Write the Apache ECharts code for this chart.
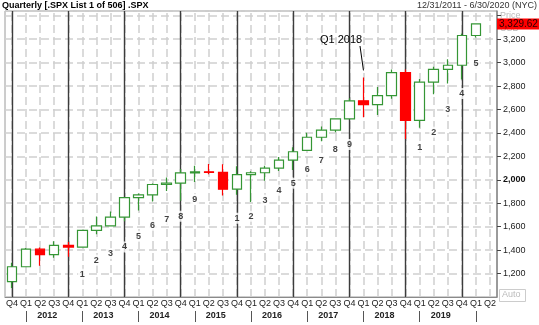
<!DOCTYPE html>
<html><head><meta charset="utf-8">
<script src="https://cdn.jsdelivr.net/npm/echarts@6/dist/echarts.min.js"></script>
<style>html,body{margin:0;padding:0;background:#fff}#c{width:539px;height:325px}</style>
</head><body><div id="c"></div>
<script>
// ---- data ----
const quarters = ['Q4 2011',
  'Q1 2012','Q2 2012','Q3 2012','Q4 2012',
  'Q1 2013','Q2 2013','Q3 2013','Q4 2013',
  'Q1 2014','Q2 2014','Q3 2014','Q4 2014',
  'Q1 2015','Q2 2015','Q3 2015','Q4 2015',
  'Q1 2016','Q2 2016','Q3 2016','Q4 2016',
  'Q1 2017','Q2 2017','Q3 2017','Q4 2017',
  'Q1 2018','Q2 2018','Q3 2018','Q4 2018',
  'Q1 2019','Q2 2019','Q3 2019','Q4 2019',
  'Q1 2020','Q2 2020'];
const openP  = [1131,1258,1408,1362,1441,1426,1569,1606,1682,1848,1872,1960,1972,2059,2068,2063,1920,2044,2060,2099,2168,2251,2363,2423,2519,2674,2641,2718,2914,2507,2834,2942,2977,3231];
const highP  = [1292,1419,1422,1475,1470,1570,1687,1730,1849,1883,1968,2019,2093,2119,2135,2133,2116,2072,2120,2194,2278,2401,2454,2520,2695,2873,2791,2941,2940,2860,2964,3028,3247,3330];
const lowP   = [1075,1258,1267,1335,1343,1426,1536,1604,1646,1738,1814,1904,1821,1981,2048,1867,1872,1810,1992,2074,2084,2245,2329,2406,2520,2533,2553,2692,2347,2444,2729,2822,2856,3214];
const closeP = [1258,1408,1362,1441,1426,1569,1606,1682,1848,1872,1960,1972,2059,2068,2063,1920,2044,2060,2099,2168,2239,2363,2423,2519,2674,2641,2718,2914,2507,2834,2942,2977,3231,3329.62];
const setupCount = [null,null,null,null,null,1,2,3,4,5,6,7,8,9,null,null,1,2,3,4,5,6,7,8,9,null,null,null,null,1,2,3,4,5,null];
const countLevel = [null,null,null,null,null,1194,1314,1371,1427,1518,1612,1663,1689,1834,null,null,1672,1689,1826,1911,1971,2090,2167,2258,2301,null,null,null,null,2278,2406,2600,2736,2992,null];
const lastPrice = 3329.62;
const annotationText = 'Q1 2018';
const annotationIndex = 25;

// ---- build ----
const candles = openP.map((o,i)=>[o, closeP[i], lowP[i], highP[i]]);
const countPts = setupCount.map((c,i)=> c==null ? null : [i, countLevel[i], c]).filter(Boolean);
const gridLines = quarters.map((q,i)=>({xAxis:i}));
const yearLines = quarters.map((q,i)=> q.startsWith('Q4') ? {xAxis:i, lineStyle:{color:'#3c3c3c', width:1.4, type:'solid'}} : null).filter(Boolean);
const fmt = v => v.toLocaleString('en-US', {minimumFractionDigits: v % 1 ? 2 : 0});

const chart = echarts.init(document.getElementById('c'), null, {renderer:'canvas'});
chart.setOption({
  animation:false,
  backgroundColor:'#fff',
  grid:{left:5, right:42, top:11, bottom:28, show:true, borderColor:'#9a9a9a', borderWidth:1},
  xAxis:[{
    type:'category', data:quarters, boundaryGap:true,
    axisLine:{lineStyle:{color:'#8a8a8a'}}, axisTick:{show:false},
    axisLabel:{interval:0, fontSize:9, margin:2, color:'#222', fontFamily:'Liberation Sans',
      formatter:v=>v.split(' ')[0]},
    splitLine:{show:false}
  },{
    type:'category', data:quarters, boundaryGap:true, position:'bottom', offset:14,
    axisLine:{show:false},
    axisTick:{show:true, alignWithLabel:true, length:11, interval:(i)=>quarters[i].startsWith('Q1'), lineStyle:{color:'#555'}},
    axisLabel:{fontSize:9, fontWeight:'bold', margin:0, color:'#222', fontFamily:'Liberation Sans',
      padding:[0,0,0,14],
      interval:(i)=>quarters[i].startsWith('Q2') && i+1<quarters.length,
      formatter:v=>v.split(' ')[1]},
    splitLine:{show:false}
  }],
  yAxis:{
    type:'value', position:'right', min:1000, max:3440, interval:200, scale:false,
    axisLine:{show:true, lineStyle:{color:'#8a8a8a', width:1.5}},
    axisTick:{show:true, length:4, lineStyle:{color:'#444'}},
    axisLabel:{fontSize:9, color:'#222', margin:6, fontFamily:'Liberation Sans',
      showMinLabel:false, showMaxLabel:false,
      formatter:v=>{ if(v>3300||v<1100) return ''; const s=fmt(v); return v===2000?'{b|'+s+'}':s; },
      rich:{b:{fontWeight:'bold', fontSize:9, color:'#111', fontFamily:'Liberation Sans'}}},
    splitLine:{show:true, lineStyle:{color:'#d0d0d0', width:1.5, type:[8,4]}}
  },
  series:[{
    type:'line', data:closeP, showSymbol:false, silent:true, z:1,
    lineStyle:{opacity:0},
    markLine:{silent:true, symbol:'none', z:1, label:{show:false},
      lineStyle:{color:'#d0d0d0', width:1.5, type:[8,4]},
      data: gridLines.concat(yearLines)}
  },{
    type:'candlestick', data:candles, barWidth:10, z:3,
    itemStyle:{color:'#ffffff', color0:'#ff0000', borderColor:'#359635', borderColor0:'#ff0000', borderWidth:1.2},
    markLine:{silent:true, symbol:'none', z:6,
      lineStyle:{color:'rgba(0,0,0,0)', width:0},
      label:{show:true, position:'end', distance:0, formatter:()=>fmt(lastPrice),
        backgroundColor:'#ff0000', color:'#2a0000', fontSize:10, padding:[1,2,0,2], fontFamily:'Liberation Sans'},
      data:[{yAxis:lastPrice}]}
  },{
    type:'scatter', data:countPts, symbolSize:0, z:4, silent:true,
    label:{show:true, position:'inside', formatter:p=>String(p.data[2]),
      fontSize:9, fontWeight:'bold', color:'#111', backgroundColor:'#fff', padding:[1,2], fontFamily:'Liberation Sans'},
    markLine:{silent:true, symbol:'none', z:6, label:{show:false},
      lineStyle:{color:'#000', width:1, type:'solid'},
      data:[[{x:360, y:46}, {coord:[annotationIndex, highP[annotationIndex]+60]}]]}
  }],
  graphic:[
    {type:'text', left:2, top:1, z:10, style:{text:'Quarterly [.SPX List 1 of 506] .SPX', font:'bold 9px "Liberation Sans"', fill:'#000'}},
    {type:'text', right:2, top:1, z:10, style:{text:'12/31/2011 - 6/30/2020 (NYC)', font:'9px "Liberation Sans"', fill:'#333'}},
    {type:'text', left:500, top:11, z:0, zlevel:0, style:{text:'Price', font:'9px "Liberation Sans"', fill:'#bbb'}},
    {type:'text', left:500, top:24, z:0, zlevel:0, style:{text:'USD', font:'9px "Liberation Sans"', fill:'#bbb'}},
    {type:'text', left:320, top:34, z:10, style:{text:annotationText, font:'11px "Liberation Sans"', fill:'#000'}},
    {type:'rect', left:499, top:289, z:10, shape:{width:26, height:12}, style:{fill:'#fff', stroke:'#ccc', lineWidth:1}},
    {type:'text', left:502, top:290, z:11, style:{text:'Auto', font:'9px "Liberation Sans"', fill:'#bbb'}}
  ]
});
</script></body></html>
